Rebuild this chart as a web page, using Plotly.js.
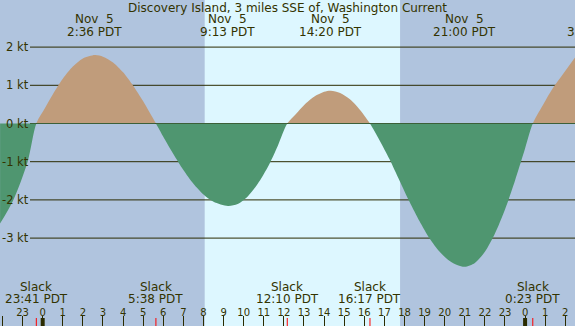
<!DOCTYPE html>
<html>
<head>
<meta charset="utf-8">
<script src="https://cdn.plot.ly/plotly-3.0.1.min.js"></script>
<style>html,body{margin:0;padding:0;background:#b0c4de;}#chart{width:575px;height:326px;}</style>
</head>
<body>
<div id="chart"></div>
<script>
// Hours relative to Nov 5 00:00 PDT, current speed in knots
const hours = [-2.12, -1.46, -0.75, -0.317, 0.1, 0.5, 1, 1.5, 2, 2.6, 3, 3.5, 4, 4.5, 5, 5.633,
  6.1, 6.5, 7, 7.5, 8, 8.5, 9.217, 9.7, 10.2, 10.7, 11.2, 11.7, 12.167,
  12.6, 13, 13.5, 14, 14.333, 14.8, 15.3, 15.8, 16.283,
  16.75, 17.25, 17.75, 18.25, 18.75, 19.25, 19.75, 20.25, 20.65, 21, 21.5, 22, 22.5, 23, 23.5, 23.95, 24.383,
  24.85, 25.3, 25.8, 26.5];
const knots = [-2.62, -2.0, -1.0, 0, 0.39, 0.76, 1.17, 1.49, 1.70, 1.79, 1.75, 1.60, 1.34, 0.99, 0.58, 0,
  -0.44, -0.80, -1.22, -1.58, -1.86, -2.05, -2.16, -2.11, -1.91, -1.58, -1.14, -0.58, 0,
  0.25, 0.48, 0.70, 0.83, 0.86, 0.80, 0.63, 0.35, 0,
  -0.43, -0.93, -1.49, -2.05, -2.56, -3.01, -3.36, -3.60, -3.71, -3.75, -3.65, -3.36, -2.88, -2.25, -1.49, -0.74, 0,
  0.45, 0.86, 1.23, 1.74];

const eventHours = [2.6, 9.217, 14.333, 21.0];
const eventDates = ["Nov  5", "Nov  5", "Nov  5", "Nov  5"];
const eventTimes = ["2:36 PDT", "9:13 PDT", "14:20 PDT", "21:00 PDT"];
const nextEventHour = [27.45];
const nextEventTime = ["3:27 PDT"];

const slackHours = [-0.317, 5.633, 12.167, 16.283, 24.383];
const slackTimes = ["23:41 PDT", "5:38 PDT", "12:10 PDT", "16:17 PDT", "0:23 PDT"];

const daylight = [8.06, 17.78];
const midnights = [0, 24];

const gridKnots = [2, 1, 0, -1, -2, -3];
const gridLabels = ["2 kt", "1 kt", "0 kt", "-1 kt", "-2 kt", "-3 kt"];

const tickHours = [-2,-1,0,1,2,3,4,5,6,7,8,9,10,11,12,13,14,15,16,17,18,19,20,21,22,23,24,25,26];
const tickLabels = ["22","23","0","1","2","3","4","5","6","7","8","9","10","11","12","13","14","15","16","17","18","19","20","21","22","23","0","1","2"];

const W = 575, H = 326;
const XR = [-2.124, 26.483];
const PPK = 38.2, ZERO_PX = 123.5;
const yTop = ZERO_PX / PPK, yBot = -(H - ZERO_PX) / PPK;
const splitPx = 123; // pixel row where flood and ebb fills meet
const splitVal = (ZERO_PX - splitPx) / PPK;
const splitDom = (H - splitPx) / H;

const NIGHT = "#b0c4de", DAY = "#ddf7ff", FLOOD = "#c09c7b", EBB = "#4f9670";
const INK = "#333300", LINE = "#2b2b00";
const FONT = "DejaVu Sans";

const curve = {width: 0, shape: "spline", smoothing: 0.8};
const traces = [
  {x: [hours[0]], y: [0], xaxis: "x", yaxis: "y", mode: "none", hoverinfo: "skip", showlegend: false},
  {x: hours, y: knots, xaxis: "x", yaxis: "y3", mode: "lines", line: curve,
   fill: "tozeroy", fillcolor: FLOOD, hoverinfo: "skip", showlegend: false},
  {x: hours, y: knots, xaxis: "x", yaxis: "y2", mode: "lines", line: curve,
   fill: "tozeroy", fillcolor: EBB, hoverinfo: "skip", showlegend: false}
];

const shapes = [];
shapes.push({type: "rect", layer: "below", xref: "x", yref: "paper", x0: daylight[0], x1: daylight[1], y0: 0, y1: 1,
  fillcolor: DAY, line: {width: 0}});
gridKnots.forEach(k => shapes.push({type: "line", layer: "below", xref: "paper", yref: "y",
  x0: 30 / W, x1: 1, y0: k, y1: k, line: {color: LINE, width: 1}}));
slackHours.forEach(h => shapes.push({type: "line", layer: "above", xref: "x", yref: "paper",
  x0: h, x1: h, y0: 0, y1: 8 / H, line: {color: "#ff0000", width: 1}}));
midnights.forEach(h => shapes.push({type: "line", layer: "above", xref: "x", yref: "paper",
  x0: h, x1: h, y0: 0, y1: 8 / H, line: {color: LINE, width: 4}}));

const ann = [];
const pyToPaper = py => 1 - py / H;
const base = {showarrow: false, borderpad: 0, borderwidth: 0, xanchor: "center", font: {family: FONT, size: 12, color: INK}};
eventHours.forEach((h, i) => {
  ann.push(Object.assign({}, base, {xref: "x", yref: "paper", x: h, y: pyToPaper(19.3), yanchor: "middle", text: eventDates[i]}));
  ann.push(Object.assign({}, base, {xref: "x", yref: "paper", x: h, y: pyToPaper(31.8), yanchor: "middle", text: eventTimes[i]}));
});
nextEventHour.forEach((h, i) => {
  ann.push(Object.assign({}, base, {xref: "paper", yref: "paper", x: (h - XR[0]) / (XR[1] - XR[0]),
    y: pyToPaper(31.8), yanchor: "middle", text: nextEventTime[i]}));
});
slackHours.forEach((h, i) => {
  ann.push(Object.assign({}, base, {xref: "x", yref: "paper", x: h, y: pyToPaper(287), yanchor: "middle", text: "Slack"}));
  ann.push(Object.assign({}, base, {xref: "x", yref: "paper", x: h, y: pyToPaper(299), yanchor: "middle", text: slackTimes[i]}));
});
gridKnots.forEach((k, i) => {
  ann.push(Object.assign({}, base, {xref: "paper", yref: "y", x: 28.5 / W, xanchor: "right", y: k, yanchor: "middle",
    text: gridLabels[i], font: {family: FONT, size: 11.5, color: INK}}));
});

const layout = {
  width: W, height: H,
  margin: {l: 0, r: 0, t: 0, b: 0, pad: 0, autoexpand: false},
  paper_bgcolor: NIGHT, plot_bgcolor: "rgba(0,0,0,0)",
  showlegend: false,
  title: {text: "Discovery Island, 3 miles SSE of, Washington Current", x: 0.5, xanchor: "center",
    yref: "container", y: 1 - 7.8 / H, yanchor: "middle", font: {family: FONT, size: 12, color: INK}, automargin: false},
  xaxis: {range: XR, fixedrange: true, showgrid: false, zeroline: false, showline: false,
    tickmode: "array", tickvals: tickHours, ticktext: tickLabels,
    ticks: "inside", ticklen: 10, tickwidth: 1, tickcolor: LINE,
    ticklabelposition: "inside", ticklabelstandoff: -3, tickfont: {family: FONT, size: 10, color: INK}},
  yaxis: {range: [yBot, yTop], domain: [0, 1], fixedrange: true, visible: false},
  yaxis2: {range: [yBot, splitVal], domain: [0, splitDom], fixedrange: true, visible: false, anchor: "x"},
  yaxis3: {range: [splitVal, yTop], domain: [splitDom, 1], fixedrange: true, visible: false, anchor: "x"},
  shapes: shapes,
  annotations: ann
};

Plotly.newPlot("chart", traces, layout, {staticPlot: true, displayModeBar: false});
</script>
</body>
</html>
